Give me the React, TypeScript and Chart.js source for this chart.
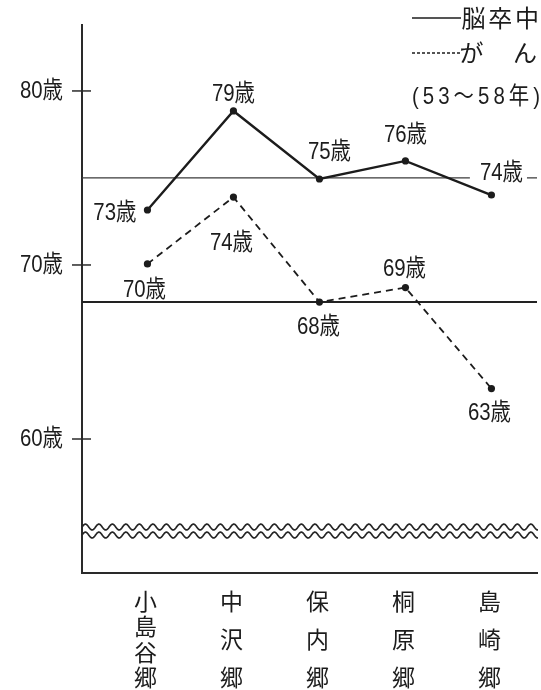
import React, { useEffect, useRef } from "react";
import { Chart, registerables } from "chart.js";

Chart.register(...registerables);

// ---- data ----
const categories = ["小島谷郷", "中沢郷", "保内郷", "桐原郷", "島崎郷"];
const strokeAges = [73.16, 78.85, 74.94, 75.98, 74.02];
const cancerAges = [70.06, 73.9, 67.87, 68.7, 62.9];
const yTickValues = [60, 70, 80];
const referenceStroke = [75.0];
const referenceCancer = [67.87];
const legendLabels = ["脳卒中", "が　ん"];
const legendPeriod = "(53～58年)";
const ageSuffix = "歳";

// ---- styles / layout (not data) ----
const INK = "#1c1c1c";
const NUM_FONT = '"Liberation Sans", "Noto Sans CJK JP", sans-serif';
const CJK_FONT = '"Noto Sans CJK JP", sans-serif';
const SQUEEZE = 0.85;
const strokeLabelPos = [
  { dx: -11, dy: 3, align: "right" as CanvasTextAlign, bg: false },
  { dx: 0, dy: -17, align: "center" as CanvasTextAlign, bg: false },
  { dx: 10, dy: -27, align: "center" as CanvasTextAlign, bg: false },
  { dx: 0, dy: -26, align: "center" as CanvasTextAlign, bg: false },
  { dx: 10, dy: -22, align: "center" as CanvasTextAlign, bg: true },
];
const cancerLabelPos = [
  { dx: -3, dy: 26, align: "center" as CanvasTextAlign, bg: false },
  { dx: -2, dy: 46, align: "center" as CanvasTextAlign, bg: false },
  { dx: -1, dy: 25, align: "center" as CanvasTextAlign, bg: false },
  { dx: -1, dy: -18, align: "center" as CanvasTextAlign, bg: false },
  { dx: -2, dy: 25, align: "center" as CanvasTextAlign, bg: false },
];
const X_MIN = -0.761;
const X_MAX = 4.53;
const Y_MIN = 52.3;
const Y_MAX = 83.79;
const BREAK_VALUES = [54.94, 54.48];

function squeezedText(
  ctx: CanvasRenderingContext2D,
  text: string,
  x: number,
  y: number,
  align: CanvasTextAlign
) {
  ctx.save();
  ctx.translate(x, y);
  ctx.scale(SQUEEZE, 1);
  ctx.textAlign = align;
  ctx.fillText(text, 0, 0);
  ctx.restore();
}

const decorPlugin = {
  id: "decor",
  afterDatasetsDraw(chart: any) {
    const { ctx, chartArea, scales } = chart;
    const xs = scales.x;
    const ys = scales.y;
    ctx.save();

    // wavy axis break lines
    ctx.strokeStyle = "#262626";
    ctx.lineWidth = 1.7;
    const period = 13.5;
    const amp = 2.9;
    BREAK_VALUES.forEach((bv) => {
      const y0 = ys.getPixelForValue(bv);
      ctx.beginPath();
      for (let x = chartArea.left; x <= chartArea.right + 1; x += 0.5) {
        const yy = y0 - amp * Math.sin(((x - chartArea.left) / period) * Math.PI * 2);
        if (x === chartArea.left) ctx.moveTo(x, yy);
        else ctx.lineTo(x, yy);
      }
      ctx.stroke();
    });

    // crossing tick marks on the y axis + tick labels
    ctx.strokeStyle = "#2a2a2a";
    ctx.lineWidth = 1.5;
    ctx.font = `24px ${NUM_FONT}`;
    ctx.textBaseline = "middle";
    ctx.fillStyle = INK;
    yTickValues.forEach((v) => {
      const y = ys.getPixelForValue(v);
      ctx.beginPath();
      ctx.moveTo(chartArea.left - 10, y);
      ctx.lineTo(chartArea.left + 9, y);
      ctx.stroke();
      squeezedText(ctx, `${v}${ageSuffix}`, chartArea.left - 19, y, "right");
    });

    // data labels
    const drawLabels = (vals: number[], pos: typeof strokeLabelPos) => {
      vals.forEach((v, i) => {
        const px = xs.getPixelForValue(i);
        const py = ys.getPixelForValue(v);
        const text = `${Math.round(v)}${ageSuffix}`;
        const p = pos[i];
        const tx = px + p.dx;
        const ty = py + p.dy;
        if (p.bg) {
          const w = ctx.measureText(text).width * SQUEEZE;
          ctx.fillStyle = "#ffffff";
          ctx.fillRect(tx - w / 2 - 10, ty - 9, w + 14, 18);
        }
        ctx.fillStyle = INK;
        squeezedText(ctx, text, tx, ty, p.align);
      });
    };
    drawLabels(strokeAges, strokeLabelPos);
    drawLabels(cancerAges, cancerLabelPos);

    // category labels (vertical text)
    ctx.font = `23px ${CJK_FONT}`;
    ctx.textAlign = "center";
    ctx.fillStyle = INK;
    categories.forEach((cat, i) => {
      const chars = Array.from(cat);
      const x = xs.getPixelForValue(i) - 2;
      const top = chartArea.bottom + 28;
      const last = chartArea.bottom + 104.5;
      const step = (last - top) / (chars.length - 1);
      chars.forEach((c, j) => ctx.fillText(c, x, top + j * step));
    });

    // legend
    ctx.strokeStyle = INK;
    ctx.lineWidth = 1.5;
    ctx.beginPath();
    ctx.moveTo(412, 18);
    ctx.lineTo(461, 18);
    ctx.stroke();
    ctx.setLineDash([3, 2]);
    ctx.beginPath();
    ctx.moveTo(412, 53);
    ctx.lineTo(460, 53);
    ctx.stroke();
    ctx.setLineDash([]);

    ctx.font = `24px ${CJK_FONT}`;
    ctx.textAlign = "center";
    Array.from(legendLabels[0]).forEach((c, j) => ctx.fillText(c, 473.5 + j * 26.7, 18));
    Array.from(legendLabels[1]).forEach((c, j) => ctx.fillText(c, 471.5 + j * 26.7, 53));

    // period note, spread between x=412 and x=540
    ctx.font = `24px ${NUM_FONT}`;
    const chars = Array.from(legendPeriod);
    const widths = chars.map((c) => ctx.measureText(c).width * SQUEEZE);
    const total = widths.reduce((a, b) => a + b, 0);
    const gap = (128 - total) / (chars.length - 1);
    let cx = 412;
    chars.forEach((c, j) => {
      squeezedText(ctx, c, cx, 97, "left");
      cx += widths[j] + gap;
    });

    ctx.restore();
  },
};

export default function App() {
  const canvasRef = useRef<HTMLCanvasElement | null>(null);

  useEffect(() => {
    const canvas = canvasRef.current;
    if (!canvas) return;
    const ptStyle = {
      pointRadius: 3.6,
      pointBackgroundColor: INK,
      pointBorderColor: INK,
      pointBorderWidth: 0,
      tension: 0,
    };
    const chart = new Chart(canvas, {
      type: "line",
      data: {
        datasets: [
          {
            label: legendLabels[0],
            data: strokeAges.map((v, i) => ({ x: i, y: v })),
            borderColor: INK,
            borderWidth: 2.4,
            ...ptStyle,
          },
          {
            label: legendLabels[1],
            data: cancerAges.map((v, i) => ({ x: i, y: v })),
            borderColor: INK,
            borderWidth: 1.8,
            borderDash: [7, 5],
            ...ptStyle,
          },
          {
            label: "ref-stroke",
            data: referenceStroke.flatMap((v) => [
              { x: X_MIN, y: v },
              { x: X_MAX, y: v },
            ]),
            borderColor: "#3a3a3a",
            borderWidth: 1.2,
            pointRadius: 0,
          },
          {
            label: "ref-cancer",
            data: referenceCancer.flatMap((v) => [
              { x: X_MIN, y: v },
              { x: X_MAX, y: v },
            ]),
            borderColor: "#222222",
            borderWidth: 2,
            pointRadius: 0,
          },
        ],
      },
      options: {
        responsive: false,
        animation: false,
        layout: { padding: { top: 25, right: 0, left: 0, bottom: 0 } },
        plugins: { legend: { display: false }, tooltip: { enabled: false } },
        scales: {
          x: {
            type: "linear",
            min: X_MIN,
            max: X_MAX,
            grid: { display: false, drawTicks: false },
            border: { display: true, width: 2, color: "#2a2a2a" },
            ticks: { display: false },
            afterFit: (s: any) => {
              s.height = 117;
            },
          },
          y: {
            type: "linear",
            min: Y_MIN,
            max: Y_MAX,
            afterBuildTicks: (s: any) => {
              s.ticks = yTickValues.map((v) => ({ value: v }));
            },
            grid: { display: false, drawTicks: false },
            border: { display: true, width: 2, color: "#2a2a2a" },
            ticks: { display: false },
            afterFit: (s: any) => {
              s.width = 82;
            },
          },
        },
      },
      plugins: [decorPlugin],
    });
    return () => chart.destroy();
  }, []);

  return (
    <div
      style={{
        position: "absolute",
        left: 0,
        top: 0,
        width: 541,
        height: 690,
        background: "#ffffff",
      }}
    >
      <canvas ref={canvasRef} width={541} height={690} style={{ display: "block" }} />
    </div>
  );
}
